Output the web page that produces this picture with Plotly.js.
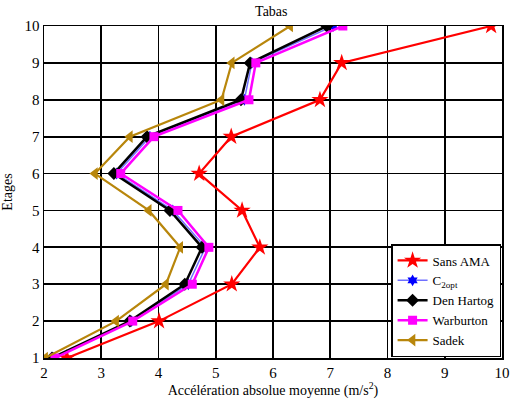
<!DOCTYPE html>
<html><head><meta charset="utf-8">
<script src="https://cdn.plot.ly/plotly-3.0.1.min.js"></script>
<style>html,body{margin:0;padding:0;background:#fff}#c{width:510px;height:399px}</style>
</head><body><div id="c"></div>
<script>
const floors = [1,2,3,4,5,6,7,8,9,10];
const sansAMA   = [2.40,4.01,5.28,5.77,5.46,4.71,5.27,6.82,7.20,9.81];
const c2opt     = [2.17,3.53,4.52,4.82,4.25,3.27,3.85,5.50,5.63,7.05];
const denHartog = [2.14,3.50,4.46,4.76,4.20,3.22,3.80,5.44,5.60,6.94];
const warburton = [2.19,3.55,4.59,4.88,4.34,3.34,3.92,5.58,5.70,7.22];
const sadek     = [2.02,3.26,4.13,4.38,3.83,2.89,3.50,5.10,5.28,6.30];
const xTicks = [2,3,4,5,6,7,8,9,10];
const yTicks = [1,2,3,4,5,6,7,8,9,10];

const F = '"Liberation Serif", "Times New Roman", serif';
function tr(x, name, color, symbol, size, lw){
  return {x:x, y:floors, name:name, type:'scatter', mode:'lines+markers',
    line:{color:color, width:lw}, marker:{color:color, symbol:symbol, size:size}};
}
const data = [
  tr(sansAMA,'Sans AMA','#ff0000','star',13,2.2),
  tr(c2opt,'C<sub>2opt</sub>','#0000ff','hexagram',9,1.5),
  tr(denHartog,'Den Hartog','#000000','diamond',10,2.5),
  tr(warburton,'Warburton','#ff00ff','square',9,2.5),
  tr(sadek,'Sadek','#b8860b','triangle-left',11,2.2)
];
data[1].line.color='#7070ff';
const ax = {showline:true, mirror:'ticks', linecolor:'#000', linewidth:1.5,
  ticks:'inside', ticklen:4, tickcolor:'#000', showgrid:true, gridcolor:'#000', gridwidth:1.8,
  zeroline:false, tickfont:{family:F, size:15, color:'#000'}};
const layout = {
  width:510, height:399, margin:{l:44, r:8, t:26, b:41},
  paper_bgcolor:'#fff', plot_bgcolor:'#fff', showlegend:true,
  font:{family:F},
  title:{text:'Tabas', font:{family:F, size:14, color:'#000'}, x:0.532, xanchor:'center', y:0.985, yanchor:'top'},
  xaxis:Object.assign({}, ax, {range:[2,10], tickvals:xTicks, ticktext:xTicks.map(String),
    title:{text:'Accélération absolue moyenne (m/s<sup>2</sup>)', font:{family:F, size:14, color:'#000'}, standoff:0}}),
  yaxis:Object.assign({}, ax, {range:[1,10], tickvals:yTicks, ticktext:yTicks.map(String),
    title:{text:'Etages', font:{family:F, size:14, color:'#000'}, standoff:8}}),
  legend:{x:0.998, y:0.003, xanchor:'right', yanchor:'bottom', bgcolor:'#fff', bordercolor:'#000', borderwidth:1.5,
    font:{family:F, size:13, color:'#000'}, tracegroupgap:0, itemwidth:30}
};
Plotly.newPlot('c', data, layout, {displayModeBar:false, staticPlot:true});
</script></body></html>
